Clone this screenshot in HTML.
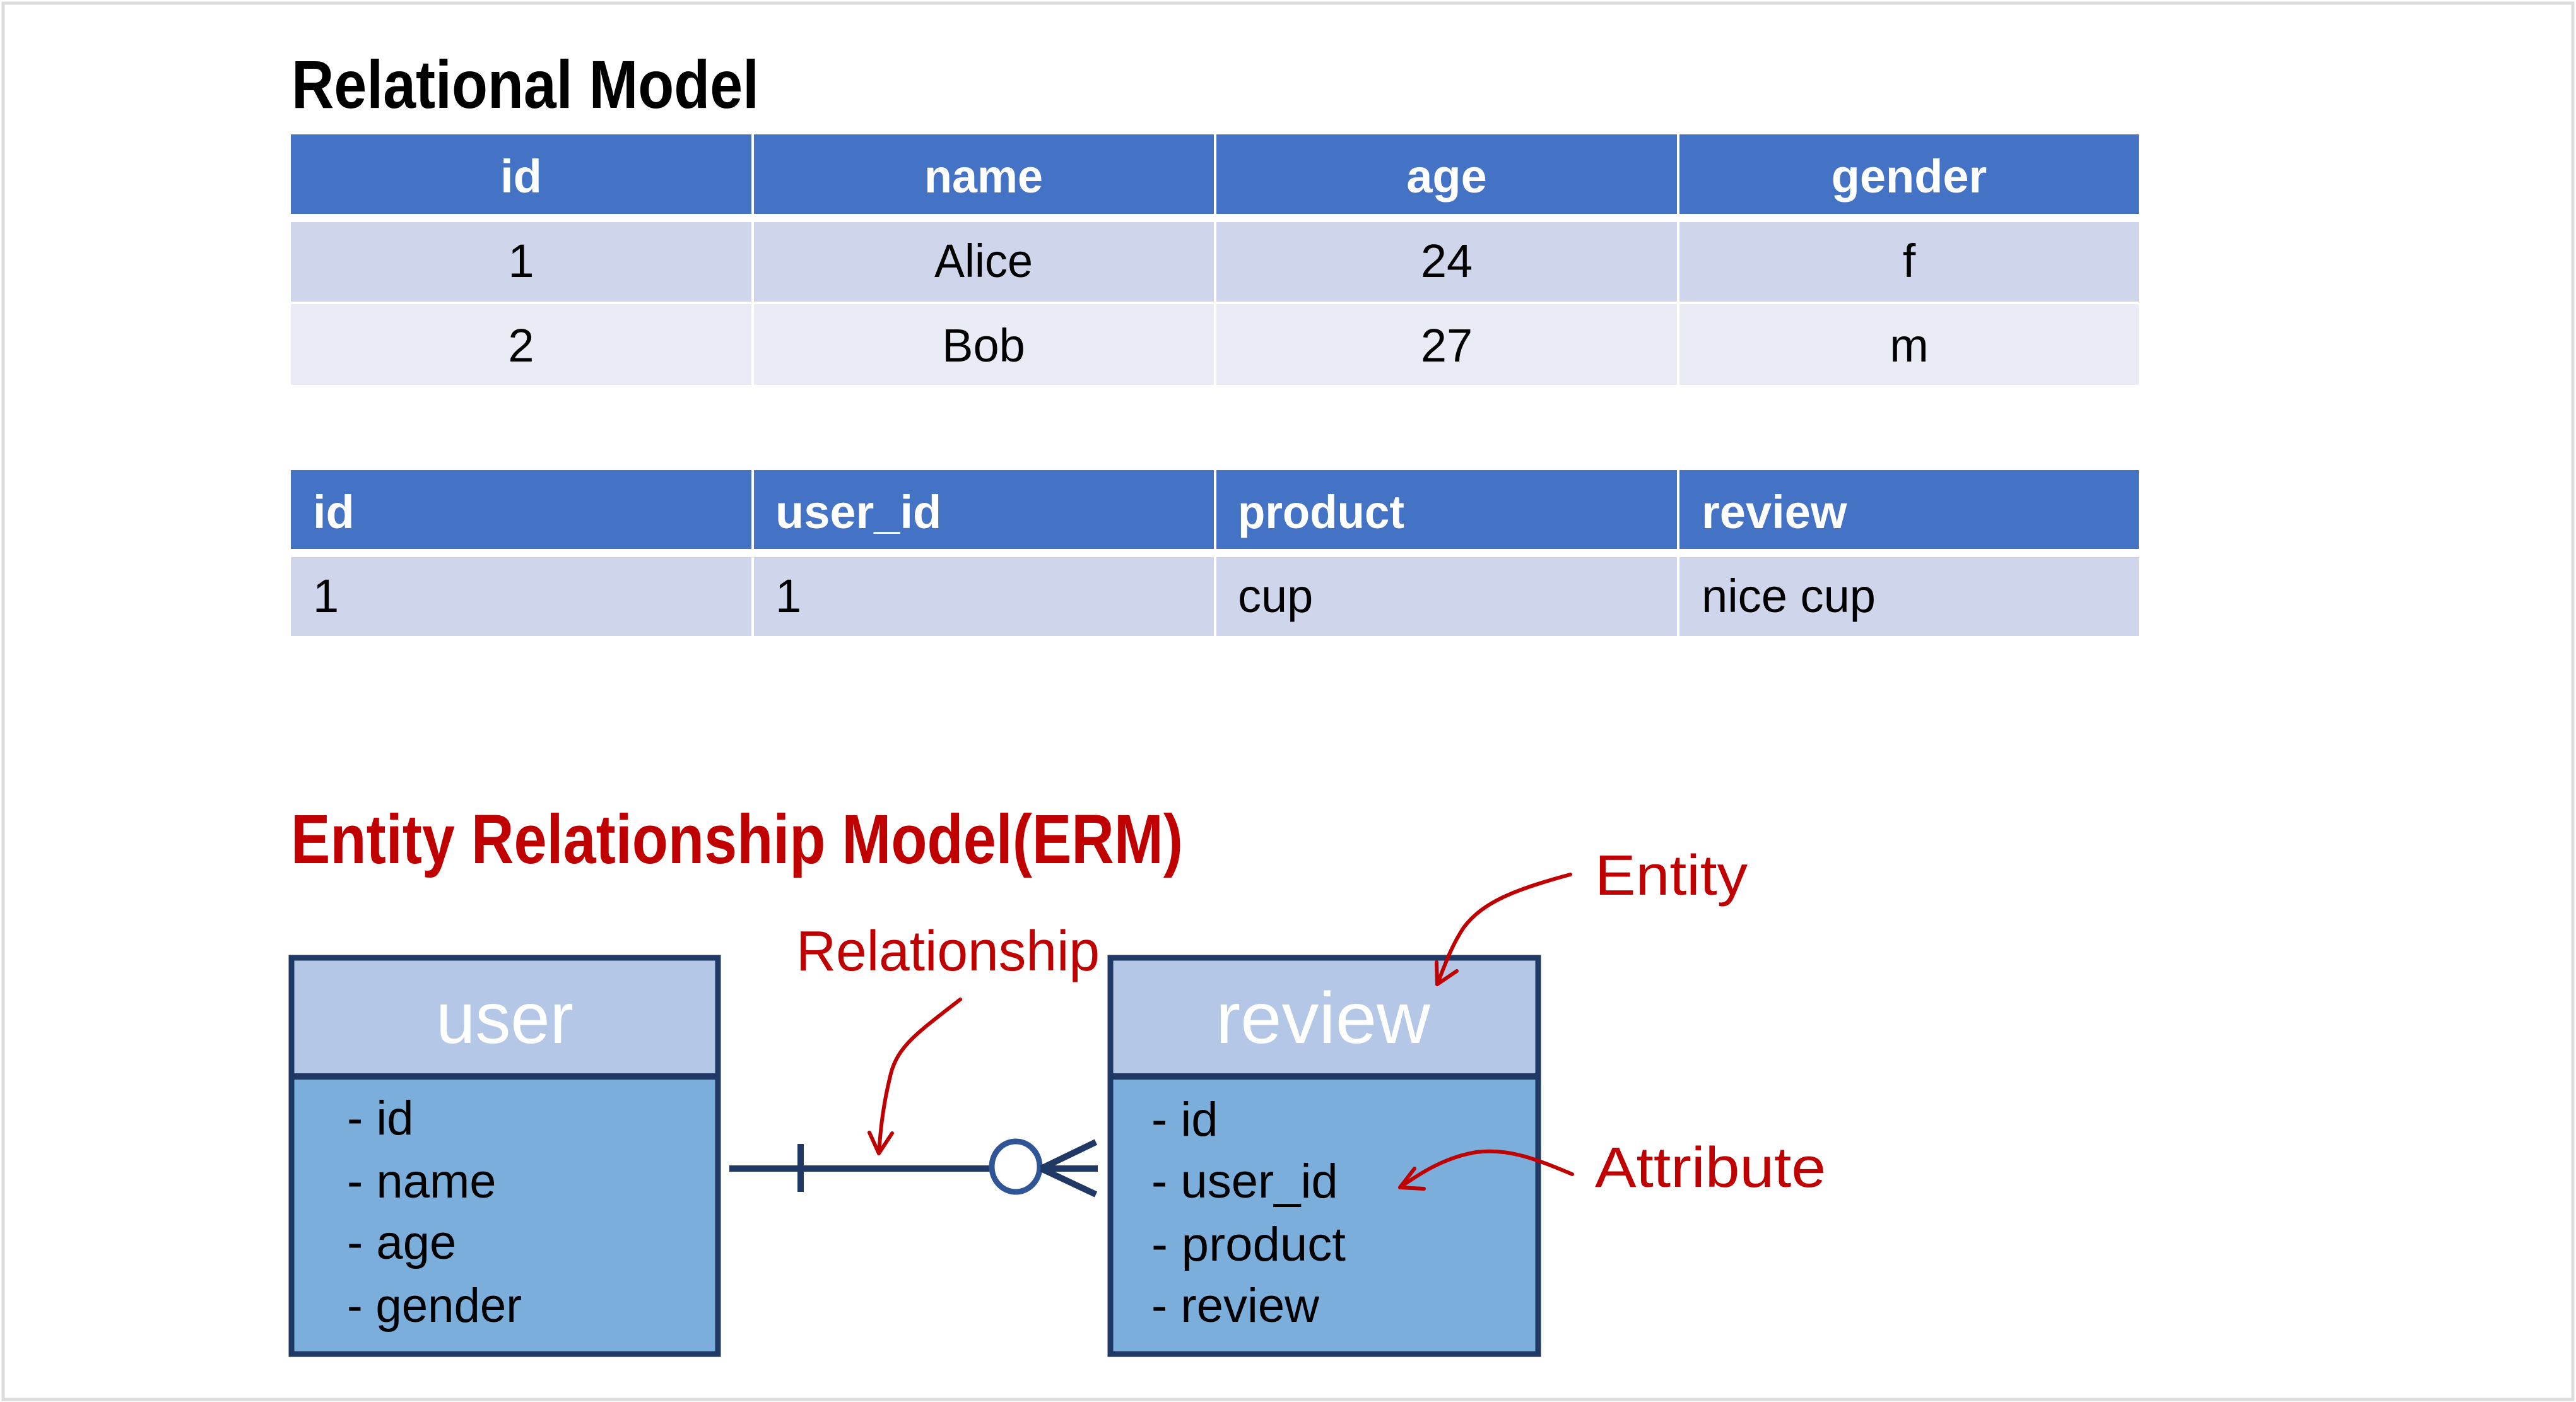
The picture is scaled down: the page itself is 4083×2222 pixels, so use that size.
<!DOCTYPE html>
<html><head><meta charset="utf-8"><style>html,body{margin:0;padding:0;background:#fff}svg{display:block}</style></head>
<body>
<svg width="4083" height="2222" viewBox="0 0 4083 2222" xmlns="http://www.w3.org/2000/svg" font-family="'Liberation Sans', sans-serif">
<rect x="5" y="5" width="4073" height="2213" fill="#fff" stroke="#dcdcdc" stroke-width="5"/>

<text x="462" y="171" font-size="108" font-weight="bold" textLength="741" lengthAdjust="spacingAndGlyphs">Relational Model</text>

<!-- Table 1 -->
<g>
<rect x="461" y="213" width="730" height="126" fill="#4472c4"/>
<rect x="1195" y="213" width="729" height="126" fill="#4472c4"/>
<rect x="1928" y="213" width="730" height="126" fill="#4472c4"/>
<rect x="2662" y="213" width="728" height="126" fill="#4472c4"/>
<rect x="461" y="352" width="730" height="126" fill="#cfd5ea"/>
<rect x="1195" y="352" width="729" height="126" fill="#cfd5ea"/>
<rect x="1928" y="352" width="730" height="126" fill="#cfd5ea"/>
<rect x="2662" y="352" width="728" height="126" fill="#cfd5ea"/>
<rect x="461" y="482" width="730" height="128" fill="#e9ebf5"/>
<rect x="1195" y="482" width="729" height="128" fill="#e9ebf5"/>
<rect x="1928" y="482" width="730" height="128" fill="#e9ebf5"/>
<rect x="2662" y="482" width="728" height="128" fill="#e9ebf5"/>
<g font-size="74" text-anchor="middle">
<text x="826" y="305" fill="#fff" font-weight="bold">id</text>
<text x="1559" y="305" fill="#fff" font-weight="bold" textLength="188" lengthAdjust="spacingAndGlyphs">name</text>
<text x="2293" y="305" fill="#fff" font-weight="bold">age</text>
<text x="3026" y="305" fill="#fff" font-weight="bold">gender</text>
<text x="826" y="439">1</text>
<text x="1559" y="439" textLength="156" lengthAdjust="spacingAndGlyphs">Alice</text>
<text x="2293" y="439">24</text>
<text x="3026" y="439">f</text>
<text x="826" y="573">2</text>
<text x="1559" y="573">Bob</text>
<text x="2293" y="573">27</text>
<text x="3026" y="573">m</text>
</g>
</g>

<!-- Table 2 -->
<g>
<rect x="461" y="745" width="730" height="125" fill="#4472c4"/>
<rect x="1195" y="745" width="729" height="125" fill="#4472c4"/>
<rect x="1928" y="745" width="730" height="125" fill="#4472c4"/>
<rect x="2662" y="745" width="728" height="125" fill="#4472c4"/>
<rect x="461" y="883" width="730" height="125" fill="#cfd5ea"/>
<rect x="1195" y="883" width="729" height="125" fill="#cfd5ea"/>
<rect x="1928" y="883" width="730" height="125" fill="#cfd5ea"/>
<rect x="2662" y="883" width="728" height="125" fill="#cfd5ea"/>
<g font-size="74">
<text x="496" y="837" fill="#fff" font-weight="bold">id</text>
<text x="1229" y="837" fill="#fff" font-weight="bold">user_id</text>
<text x="1962" y="837" fill="#fff" font-weight="bold" textLength="264" lengthAdjust="spacingAndGlyphs">product</text>
<text x="2697" y="837" fill="#fff" font-weight="bold">review</text>
<text x="496" y="970">1</text>
<text x="1229" y="970">1</text>
<text x="1962" y="970">cup</text>
<text x="2697" y="970" textLength="276" lengthAdjust="spacingAndGlyphs">nice cup</text>
</g>
</g>

<text x="461" y="1368" font-size="110" font-weight="bold" fill="#c00000" textLength="1414" lengthAdjust="spacingAndGlyphs">Entity Relationship Model(ERM)</text>

<!-- user box -->
<rect x="462" y="1518" width="676" height="188" fill="#b4c7e7"/>
<rect x="462" y="1706" width="676" height="440" fill="#7caedc"/>
<rect x="462" y="1518" width="676" height="628" fill="none" stroke="#203864" stroke-width="9"/>
<line x1="462" y1="1706" x2="1138" y2="1706" stroke="#203864" stroke-width="10"/>
<text x="800" y="1653" font-size="115" fill="#fff" text-anchor="middle" textLength="218" lengthAdjust="spacingAndGlyphs">user</text>
<g font-size="76">
<text x="550" y="1798">- id</text>
<text x="550" y="1898">- name</text>
<text x="550" y="1995">- age</text>
<text x="550" y="2095" textLength="277" lengthAdjust="spacingAndGlyphs">- gender</text>
</g>

<!-- review box -->
<rect x="1760" y="1518" width="678" height="188" fill="#b4c7e7"/>
<rect x="1760" y="1706" width="678" height="440" fill="#7caedc"/>
<rect x="1760" y="1518" width="678" height="628" fill="none" stroke="#203864" stroke-width="9"/>
<line x1="1760" y1="1706" x2="2438" y2="1706" stroke="#203864" stroke-width="10"/>
<text x="2097" y="1653" font-size="115" fill="#fff" text-anchor="middle" textLength="340" lengthAdjust="spacingAndGlyphs">review</text>
<g font-size="76">
<text x="1825" y="1800">- id</text>
<text x="1825" y="1898">- user_id</text>
<text x="1825" y="1998" textLength="308" lengthAdjust="spacingAndGlyphs">- product</text>
<text x="1825" y="2095">- review</text>
</g>

<!-- connector -->
<line x1="1156" y1="1852" x2="1740" y2="1852" stroke="#203864" stroke-width="10"/>
<line x1="1269" y1="1813" x2="1269" y2="1889" stroke="#203864" stroke-width="10"/>
<ellipse cx="1610" cy="1849" rx="38" ry="40" fill="#fff" stroke="#2f5597" stroke-width="9"/>
<line x1="1650" y1="1852" x2="1737" y2="1810" stroke="#203864" stroke-width="10"/>
<line x1="1650" y1="1852" x2="1737" y2="1893" stroke="#203864" stroke-width="10"/>

<!-- annotations -->
<g fill="#c00000" font-size="90">
<text x="1262" y="1538" textLength="481" lengthAdjust="spacingAndGlyphs">Relationship</text>
<text x="2528" y="1418" textLength="242" lengthAdjust="spacingAndGlyphs">Entity</text>
<text x="2528" y="1881" textLength="366" lengthAdjust="spacingAndGlyphs">Attribute</text>
</g>
<g fill="none" stroke="#c00000" stroke-width="6" stroke-linecap="round" stroke-linejoin="round">
<path d="M1522,1584 C1450,1640 1420,1660 1410,1710 C1398,1760 1395,1800 1393,1828"/>
<path d="M1378,1795 L1393,1828 L1414,1796"/>
<path d="M2489,1386 C2400,1410 2350,1430 2320,1470 C2300,1500 2290,1530 2278,1560"/>
<path d="M2277,1525 L2278,1560 L2309,1539"/>
<path d="M2492,1861 C2430,1835 2390,1820 2340,1826 C2290,1834 2250,1860 2219,1882"/>
<path d="M2242,1852 L2219,1882 L2257,1884"/>
</g>
</svg>
</body></html>
